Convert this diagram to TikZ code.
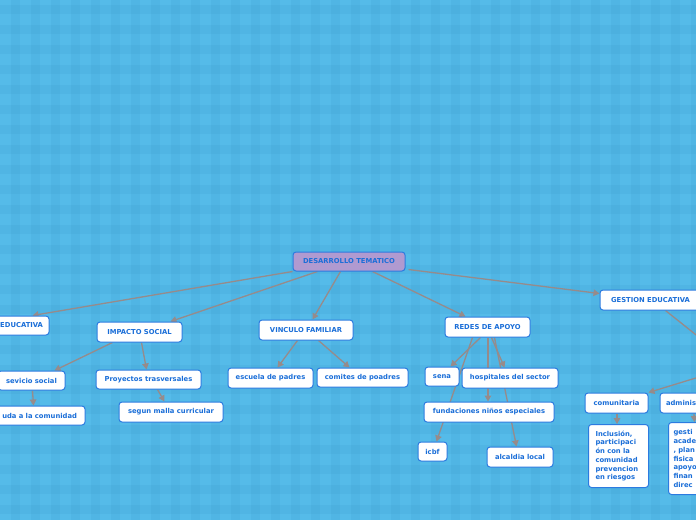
\documentclass[tikz,border=0pt]{standalone}
\usepackage{fontspec}
\setmainfont{DejaVu Sans}
\usetikzlibrary{arrows.meta}
\definecolor{bgbase}{HTML}{55BBE9}
\definecolor{stripe}{HTML}{2A86BC}
\definecolor{boxblue}{HTML}{2C7BE0}
\definecolor{textblue}{HTML}{1A6ED8}
\definecolor{lavender}{HTML}{B09AD0}
\definecolor{linegray}{HTML}{968B8B}
\pgfdeclarelayer{bg}
\pgfdeclarelayer{lines}
\pgfsetlayers{bg,lines,main}
\tikzset{
  box/.style={draw=boxblue, fill=white, line width=1pt, rounded corners=3pt,
    text=textblue, font=\fontsize{6.8}{8.7}\selectfont\bfseries,
    inner sep=0pt, align=center},
  rootbox/.style={box, fill=lavender},
  multibox/.style={box, anchor=north west, align=left, inner xsep=7pt, inner ysep=5pt},
  conn/.style={draw=linegray, line width=1.3pt, -{Triangle[length=6pt,width=6.5pt]}}
}
\begin{document}
\begin{tikzpicture}[x=1pt,y=-1pt]
\useasboundingbox (0,0) rectangle (696,520);
\begin{pgfonlayer}{bg}
  \fill[bgbase] (0,0) rectangle (696,520);
  \foreach \k in {0,...,34} {
    \fill[stripe, opacity=0.10] ({11+20*\k},0) rectangle ({20+20*\k},520);
  }
  \foreach \k in {0,...,25} {
    \fill[stripe, opacity=0.10] (0,{5+20*\k}) rectangle (696,{14+20*\k});
  }
\end{pgfonlayer}
\clip (0,0) rectangle (696,520);
% nodes
\node[rootbox, minimum width=112pt, minimum height=19pt] (dt) at (349,261.5) {DESARROLLO TEMATICO};
\node[box, text width=65pt, inner xsep=6pt, align=right, minimum height=19pt] (edu) at (10.5,325.5) {EDUCATIVA};
\node[box, minimum width=85pt, minimum height=20pt] (imp) at (139.5,332) {IMPACTO SOCIAL};
\node[box, minimum width=94pt, minimum height=20pt] (vin) at (306,330) {VINCULO FAMILIAR};
\node[box, minimum width=85pt, minimum height=20pt] (red) at (487.5,327) {REDES DE APOYO};
\node[box, minimum width=101pt, minimum height=20pt] (ges) at (650.5,300) {GESTION EDUCATIVA};
\coordinate (gsub) at (735,366);
\node[box, minimum width=67pt, minimum height=19pt] (sev) at (31.5,380.5) {sevicio social};
\node[box, text width=85pt, inner xsep=8pt, align=right, minimum height=19pt] (ayu) at (34.5,415.5) {uda a la comunidad};
\node[box, minimum width=105pt, minimum height=19pt] (pro) at (148.5,379.5) {Proyectos trasversales};
\node[box, minimum width=104pt, minimum height=20pt] (seg) at (171,412) {segun malla curricular};
\node[box, minimum width=85pt, minimum height=20pt] (esc) at (270.5,378) {escuela de padres};
\node[box, minimum width=91pt, minimum height=19pt] (comi) at (362.5,377.5) {comites de poadres};
\node[box, minimum width=34pt, minimum height=19pt] (sena) at (442,376.5) {sena};
\node[box, minimum width=96pt, minimum height=20pt] (hos) at (510,378) {hospitales del sector};
\node[box, minimum width=130pt, minimum height=20pt] (fun) at (489,412) {fundaciones niños especiales};
\node[box, minimum width=29pt, minimum height=19pt] (icbf) at (432.5,451.5) {icbf};
\node[box, minimum width=66pt, minimum height=20pt] (alc) at (520,457) {alcaldia local};
\node[box, minimum width=63pt, minimum height=20pt] (comu) at (616.5,403) {comunitaria};
\node[box, text width=60pt, inner xsep=6pt, align=left, minimum height=20pt] (adm) at (696,403) {adminis};
\node[multibox, text width=46pt, minimum height=63pt] (inc) at (588,424) {Inclusión,\\participaci\\ón con la\\comunidad\\prevencion\\en riesgos};
\node[multibox, inner xsep=5pt, text width=50pt, minimum height=72pt] (gest) at (668,422) {gesti\\acade\\, plan\\fisica\\apoyo\\finan\\direc};
% connectors
\begin{pgfonlayer}{lines}
  \clip (0,0) rectangle (696,520);
  \draw[conn] (dt.south west) -- ([xshift=61pt]edu.north west);
  \draw[conn] ([xshift=25pt]dt.south west) -- ([xshift=74pt]imp.north west);
  \draw[conn] ([xshift=48pt]dt.south west) -- ([xshift=54pt]vin.north west);
  \draw[conn] ([xshift=80pt]dt.south west) -- ([xshift=21pt]red.north west);
  \draw[conn] ([xshift=3pt,yshift=2pt]dt.south east) -- ([yshift=-4pt]ges.north west);
  \draw[conn] ([xshift=66pt]ges.south west) -- (gsub);
  \draw[conn] (gsub) -- (comu.north east);
  \draw[conn] ([xshift=0.5pt]comu.south) -- ([xshift=0.5pt]comu.south |- inc.north);
  \draw[conn] ([xshift=34.5pt]adm.south west) -- ([xshift=26.5pt]gest.north west);
  \draw[conn] ([xshift=16pt]imp.south west) -- ([xshift=57pt]sev.north west);
  \draw[conn] ([xshift=45pt]imp.south west) -- ([xshift=51pt]pro.north west);
  \draw[conn] ([xshift=35pt]sev.south west) -- ([xshift=50pt]ayu.north west);
  \draw[conn] ([xshift=62pt]pro.south west) -- ([xshift=46pt]seg.north west);
  \draw[conn] ([xshift=39pt]vin.south west) -- ([xshift=50pt]esc.north west);
  \draw[conn] ([xshift=60pt]vin.south west) -- ([xshift=33pt]comi.north west);
  \draw[conn] ([xshift=36pt]red.south west) -- ([xshift=26pt]sena.north west);
  \draw[conn] ([xshift=47pt]red.south west) -- ([xshift=43pt]hos.north west);
  \draw[conn] ([xshift=43.5pt]red.south west) -- ([xshift=64.5pt]fun.north west);
  \draw[conn] ([xshift=28pt]red.south west) -- ([xshift=19pt]icbf.north west);
  \draw[conn] ([xshift=50pt]red.south west) -- ([xshift=30pt]alc.north west);
\end{pgfonlayer}
\end{tikzpicture}
\end{document}
